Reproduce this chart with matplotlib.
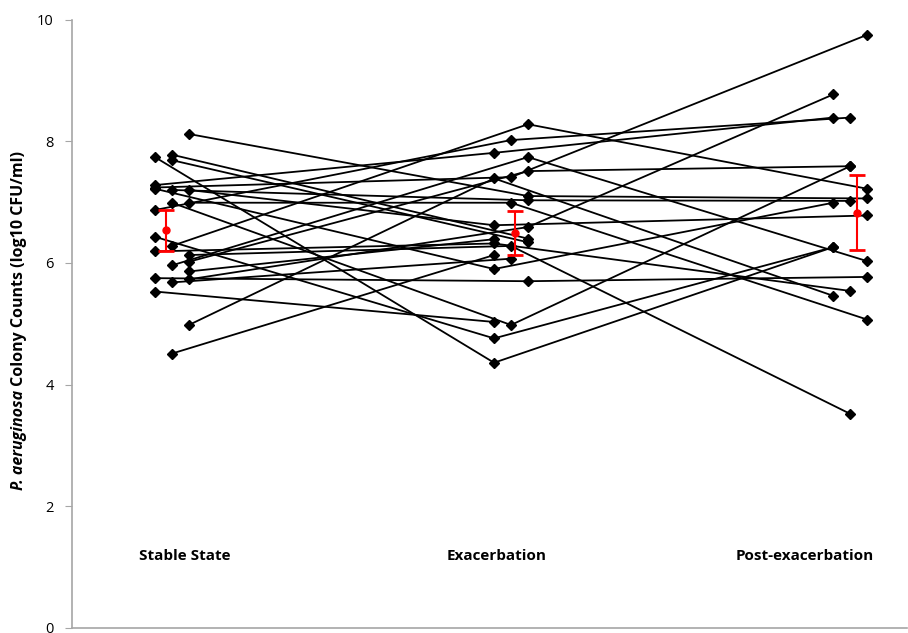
import numpy as np
import matplotlib.pyplot as plt

# per-patient values (log10 CFU/ml); None = no post-exacerbation sample
stable = [8.12, 7.74, 7.78, 7.69, 7.28, 7.24, 7.20, 7.20, 6.99, 6.99, 6.87, 6.43, 6.28,
          6.19, 6.13, 6.02, 5.96, 5.86, 5.75, 5.73, 5.68, 5.53, 4.98, 4.51, 7.22]
exacerb = [7.10, 4.36, 6.40, 6.34, 7.81, 7.41, 7.03, 6.62, 4.98, 6.99, 8.02, 4.76, 8.28,
           6.32, 6.28, 7.51, 7.74, 6.39, 5.70, 6.59, 6.07, 5.03, 7.39, 6.13, 5.90]
post = [7.06, 6.26, None, None, 8.39, 9.75, 7.02, 6.78, 7.59, 5.07, 8.39, 6.26, 7.22,
        5.54, 3.52, 7.59, 6.03, None, 5.77, 8.77, None, None, 5.46, None, 6.99]
# column slot of each point (0 left, 1 middle, 2 right)
slot_s = [2, 0, 1, 1, 0, 0, 1, 2, 1, 2, 0, 0, 1, 0, 2, 2, 1, 2, 0, 2, 1, 0, 2, 1, 0]
slot_e = [2, 0, 2, 2, 0, 1, 2, 0, 1, 1, 1, 0, 2, 0, 1, 2, 2, 0, 2, 2, 1, 0, 0, 0, 0]
slot_p = [2, 0, 0, 0, 0, 2, 1, 2, 1, 2, 1, 0, 2, 1, 1, 1, 2, 0, 2, 0, 0, 0, 0, 0, 0]

groups = ['Stable State', 'Exacerbation', 'Post-exacerbation']
means = [6.54, 6.50, 6.82]
lower = [6.19, 6.13, 6.21]
upper = [6.87, 6.86, 7.44]

jit = 0.05
fig = plt.figure(figsize=(9.08, 6.33), dpi=100)
ax = fig.add_axes([0.079, 0.008, 0.92, 0.961])

for i in range(len(stable)):
    xs = [1 + (slot_s[i] - 1) * jit, 2 + (slot_e[i] - 1) * jit]
    ys = [stable[i], exacerb[i]]
    if post[i] is not None:
        xs.append(3 + (slot_p[i] - 1) * jit)
        ys.append(post[i])
    ax.plot(xs, ys, color='black', lw=1.3, marker='D', ms=5, mfc='black', mec='black', zorder=2)

mx = [1 - 0.016, 2 + 0.011, 3 + 0.02]
m = np.array(means)
err = [m - np.array(lower), np.array(upper) - m]
ax.errorbar(mx, means, yerr=err, fmt='o', color='red', ms=5, capsize=6, capthick=2,
            elinewidth=1.5, zorder=3)

label_x = [1.038, 1.957, 2.867]
for x, g in zip(label_x, groups):
    ax.text(x, 1.18, g, ha='center', va='center', fontsize=11, fontweight='bold', family='Open Sans')

ax.set_xlim(0.7046, 3.168)
ax.set_ylim(0, 10)
ax.set_yticks([0, 2, 4, 6, 8, 10])
ax.set_xticks([])
for s in ['top', 'right']:
    ax.spines[s].set_visible(False)
for s in ['left', 'bottom']:
    ax.spines[s].set_color('#a6a6a6')
    ax.spines[s].set_linewidth(1.2)
ax.tick_params(axis='y', direction='out', length=5, color='#a6a6a6', labelsize=10.5, pad=8)
for t in ax.get_yticklabels():
    t.set_family('Open Sans')

# y label: italic species name followed by plain bold text
t1 = fig.text(0.012, 0.226, 'P. aeruginosa', rotation=90, ha='left', va='bottom',
              fontsize=11.5, fontweight='bold', style='italic', family='Open Sans')
fig.canvas.draw()
bb = t1.get_window_extent()
fig.text(bb.x0, bb.y1, ' Colony Counts (log10 CFU/ml)', rotation=90, ha='left', va='bottom',
         fontsize=11.5, fontweight='bold', family='Open Sans', transform=None)

fig.savefig('out.png', dpi=100)
